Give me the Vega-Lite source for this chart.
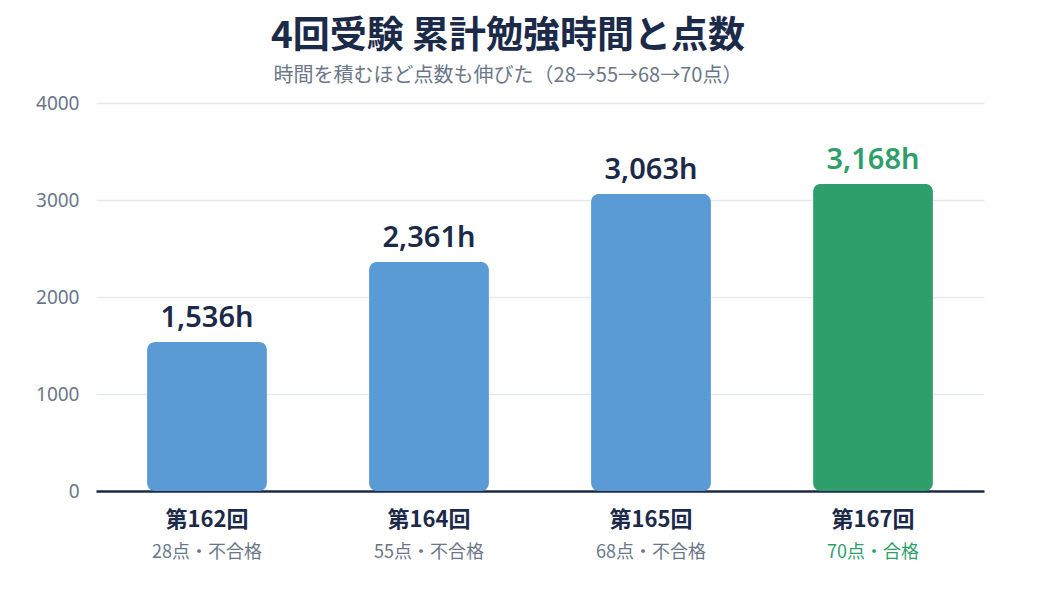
{
  "$schema": "https://vega.github.io/schema/vega-lite/v6.json",
  "width": 888,
  "height": 388,
  "autosize": {"type": "none"},
  "padding": {"left": 96, "top": 103, "right": 56, "bottom": 109},
  "background": "white",
  "config": {
    "font": "Noto Sans CJK JP",
    "view": {"stroke": null}
  },
  "title": {
    "text": "4回受験 累計勉強時間と点数",
    "subtitle": "時間を積むほど点数も伸びた（28→55→68→70点）",
    "anchor": "middle",
    "dx": -32,
    "font": "Noto Sans CJK JP",
    "fontSize": 37,
    "fontWeight": "bold",
    "color": "#1c2a4a",
    "subtitleFont": "Noto Sans CJK JP",
    "subtitleFontSize": 20,
    "subtitleColor": "#6b7789",
    "subtitlePadding": 10,
    "offset": 7
  },
  "data": {
    "values": [
      {"round": "第162回", "hours": 1536, "score": "28点・不合格", "label": "1,536h", "passed": false},
      {"round": "第164回", "hours": 2361, "score": "55点・不合格", "label": "2,361h", "passed": false},
      {"round": "第165回", "hours": 3063, "score": "68点・不合格", "label": "3,063h", "passed": false},
      {"round": "第167回", "hours": 3168, "score": "70点・合格", "label": "3,168h", "passed": true}
    ]
  },
  "encoding": {
    "x": {
      "field": "round",
      "type": "nominal",
      "sort": null,
      "scale": {"paddingInner": 0.46, "paddingOuter": 0.23},
      "axis": {
        "title": null,
        "labelAngle": 0,
        "labelFont": "Noto Sans CJK JP",
        "labelFontSize": 22,
        "labelFontWeight": "bold",
        "labelColor": "#1c2a4a",
        "labelPadding": 18,
        "ticks": false,
        "domainColor": "#1c2a4a",
        "domainWidth": 2.5,
        "grid": false
      }
    }
  },
  "layer": [
    {
      "mark": {"type": "bar", "cornerRadiusTopLeft": 8, "cornerRadiusTopRight": 8, "cornerRadiusBottomLeft": 8, "cornerRadiusBottomRight": 8},
      "encoding": {
        "y": {
          "field": "hours",
          "type": "quantitative",
          "scale": {"domain": [0, 4000]},
          "axis": {
            "title": null,
            "values": [0, 1000, 2000, 3000, 4000],
            "format": "d",
            "labelFont": "Noto Sans",
            "labelFontSize": 19,
            "labelColor": "#6b7789",
            "labelPadding": 17,
            "ticks": false,
            "domain": false,
            "gridColor": "#e5e9ef",
            "gridWidth": 1.5
          }
        },
        "color": {
          "condition": {"test": "datum.passed", "value": "#2e9e6b"},
          "value": "#5b9bd5"
        }
      }
    },
    {
      "mark": {"type": "text", "baseline": "alphabetic", "dy": -15, "font": "Noto Sans", "fontSize": 29, "fontWeight": 600},
      "encoding": {
        "y": {"field": "hours", "type": "quantitative"},
        "text": {"field": "label"},
        "color": {
          "condition": {"test": "datum.passed", "value": "#2e9e6b"},
          "value": "#1c2a4a"
        }
      }
    },
    {
      "mark": {"type": "text", "baseline": "middle", "dy": 62, "font": "Noto Sans CJK JP", "fontSize": 18},
      "encoding": {
        "y": {"datum": 0},
        "text": {"field": "score"},
        "color": {
          "condition": {"test": "datum.passed", "value": "#2e9e6b"},
          "value": "#6b7789"
        },
        "fontWeight": {
          "condition": {"test": "datum.passed", "value": "bold"},
          "value": "normal"
        }
      }
    }
  ]
}
